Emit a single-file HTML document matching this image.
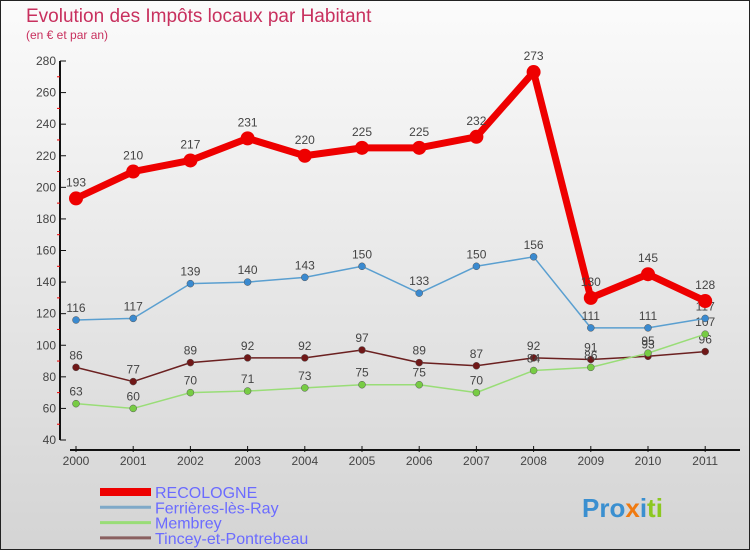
<!DOCTYPE html>
<html><head><meta charset="utf-8"><style>
body{margin:0;width:750px;height:550px;overflow:hidden;font-family:"Liberation Sans",sans-serif}
</style></head><body>
<svg width="750" height="550" xmlns="http://www.w3.org/2000/svg" id="chart">
<defs><linearGradient id="bg" x1="0" y1="0" x2="0" y2="1"><stop offset="0" stop-color="#fbfbfb"/><stop offset="1" stop-color="#d4d4d4"/></linearGradient></defs>
<rect x="0.5" y="0.5" width="749" height="549" fill="url(#bg)" stroke="#222"/>
<text x="26" y="22" font-size="19" fill="#c8305e">Evolution des Impôts locaux par Habitant</text>
<text x="26" y="39" font-size="12" fill="#c8305e">(en € et par an)</text>
<g id="axes"></g>
<g id="series"></g>
<g id="legend"></g>
<text x="582" y="517" font-size="26" font-weight="bold"><tspan fill="#3a8fd0">Pro</tspan><tspan fill="#f07a10">x</tspan><tspan fill="#3a8fd0">i</tspan><tspan fill="#8cc820">ti</tspan></text>
</svg>
<script>
const years=["2000","2001","2002","2003","2004","2005","2006","2007","2008","2009","2010","2011"];
const recologne=[193,210,217,231,220,225,225,232,273,130,145,128];
const ferrieres=[116,117,139,140,143,150,133,150,156,111,111,117];
const membrey=[63,60,70,71,73,75,75,70,84,86,95,107];
const tincey=[86,77,89,92,92,97,89,87,92,91,93,96];
const yTicks=[40,60,80,100,120,140,160,180,200,220,240,260,280];
const NS="http://www.w3.org/2000/svg";
const xs=i=>76+i*57.2;
const ys=v=>440-(v-40)*(379/240);
function mk(t,a,p){const e=document.createElementNS(NS,t);for(const k in a)e.setAttribute(k,a[k]);p.appendChild(e);return e;}
const ax=document.getElementById('axes');
let l=mk('line',{x1:60,y1:ys(280),x2:60,y2:ys(40),stroke:'#111','stroke-width':2},ax);


yTicks.forEach(v=>{
 mk('line',{x1:60,y1:ys(v),x2:66,y2:ys(v),stroke:'#111'},ax);
 if(v<280) mk('line',{x1:57,y1:ys(v+10),x2:60,y2:ys(v+10),stroke:'#e00'},ax);
 const t=mk('text',{x:56,y:ys(v)+4,'font-size':12,fill:'#444','text-anchor':'end'},ax);t.textContent=v;
 
 
});
l=mk('line',{x1:70,y1:450,x2:740,y2:450,stroke:'#111','stroke-width':2},ax);


years.forEach((y,i)=>{
 mk('line',{x1:xs(i),y1:446,x2:xs(i),y2:452,stroke:'#111'},ax);
 const t=mk('text',{x:xs(i),y:465,'font-size':12,fill:'#444','text-anchor':'middle'},ax);t.textContent=y;
 
 
});
const sg=document.getElementById('series');
const series=[
 {n:'tincey',d:tincey,c:'#6b2020',w:1.5,r:3.5,f:'#701818'},
 {n:'membrey',d:membrey,c:'#99dd77',w:1.5,r:3.5,f:'#77cc44'},
 {n:'ferrieres',d:ferrieres,c:'#5a9fd0',w:1.5,r:3.5,f:'#3a8ad0'},
 {n:'recologne',d:recologne,c:'#ee0000',w:7,r:7,f:'#ee0000'}];
series.forEach(s=>{
 const g=mk('g',{},sg);
 
 
 const p=mk('polyline',{points:s.d.map((v,i)=>xs(i)+','+ys(v)).join(' '),fill:'none',stroke:s.c,'stroke-width':s.w,'stroke-linejoin':'round'},g);
 
 
 s.d.forEach((v,i)=>{
  const c=mk('circle',{cx:xs(i),cy:ys(v),r:s.r,fill:s.f,stroke:s.w>2?'none':'#555','stroke-width':0.5},g);
  
  
  const t=mk('text',{x:xs(i),y:ys(v)-(s.w>2?12:8),'font-size':12,fill:'#444','text-anchor':'middle'},g);t.textContent=v;
  
  
 });
});
const lg=document.getElementById('legend');
const leg=[['RECOLOGNE','#ee0000',8],['Ferrières-lès-Ray','#7fa9c8',3],['Membrey','#99dd77',3],['Tincey-et-Pontrebeau','#8a6060',3]];
leg.forEach((e,i)=>{
 const y=492+i*15.3;
 const g=mk('g',{},lg);
 
 
 mk('line',{x1:100,y1:y,x2:151,y2:y,stroke:e[1],'stroke-width':e[2]},g);
 const t=mk('text',{x:155,y:y+6,'font-size':16,fill:'#6b6bff'},g);t.textContent=e[0];
});
</script>
</body></html>
